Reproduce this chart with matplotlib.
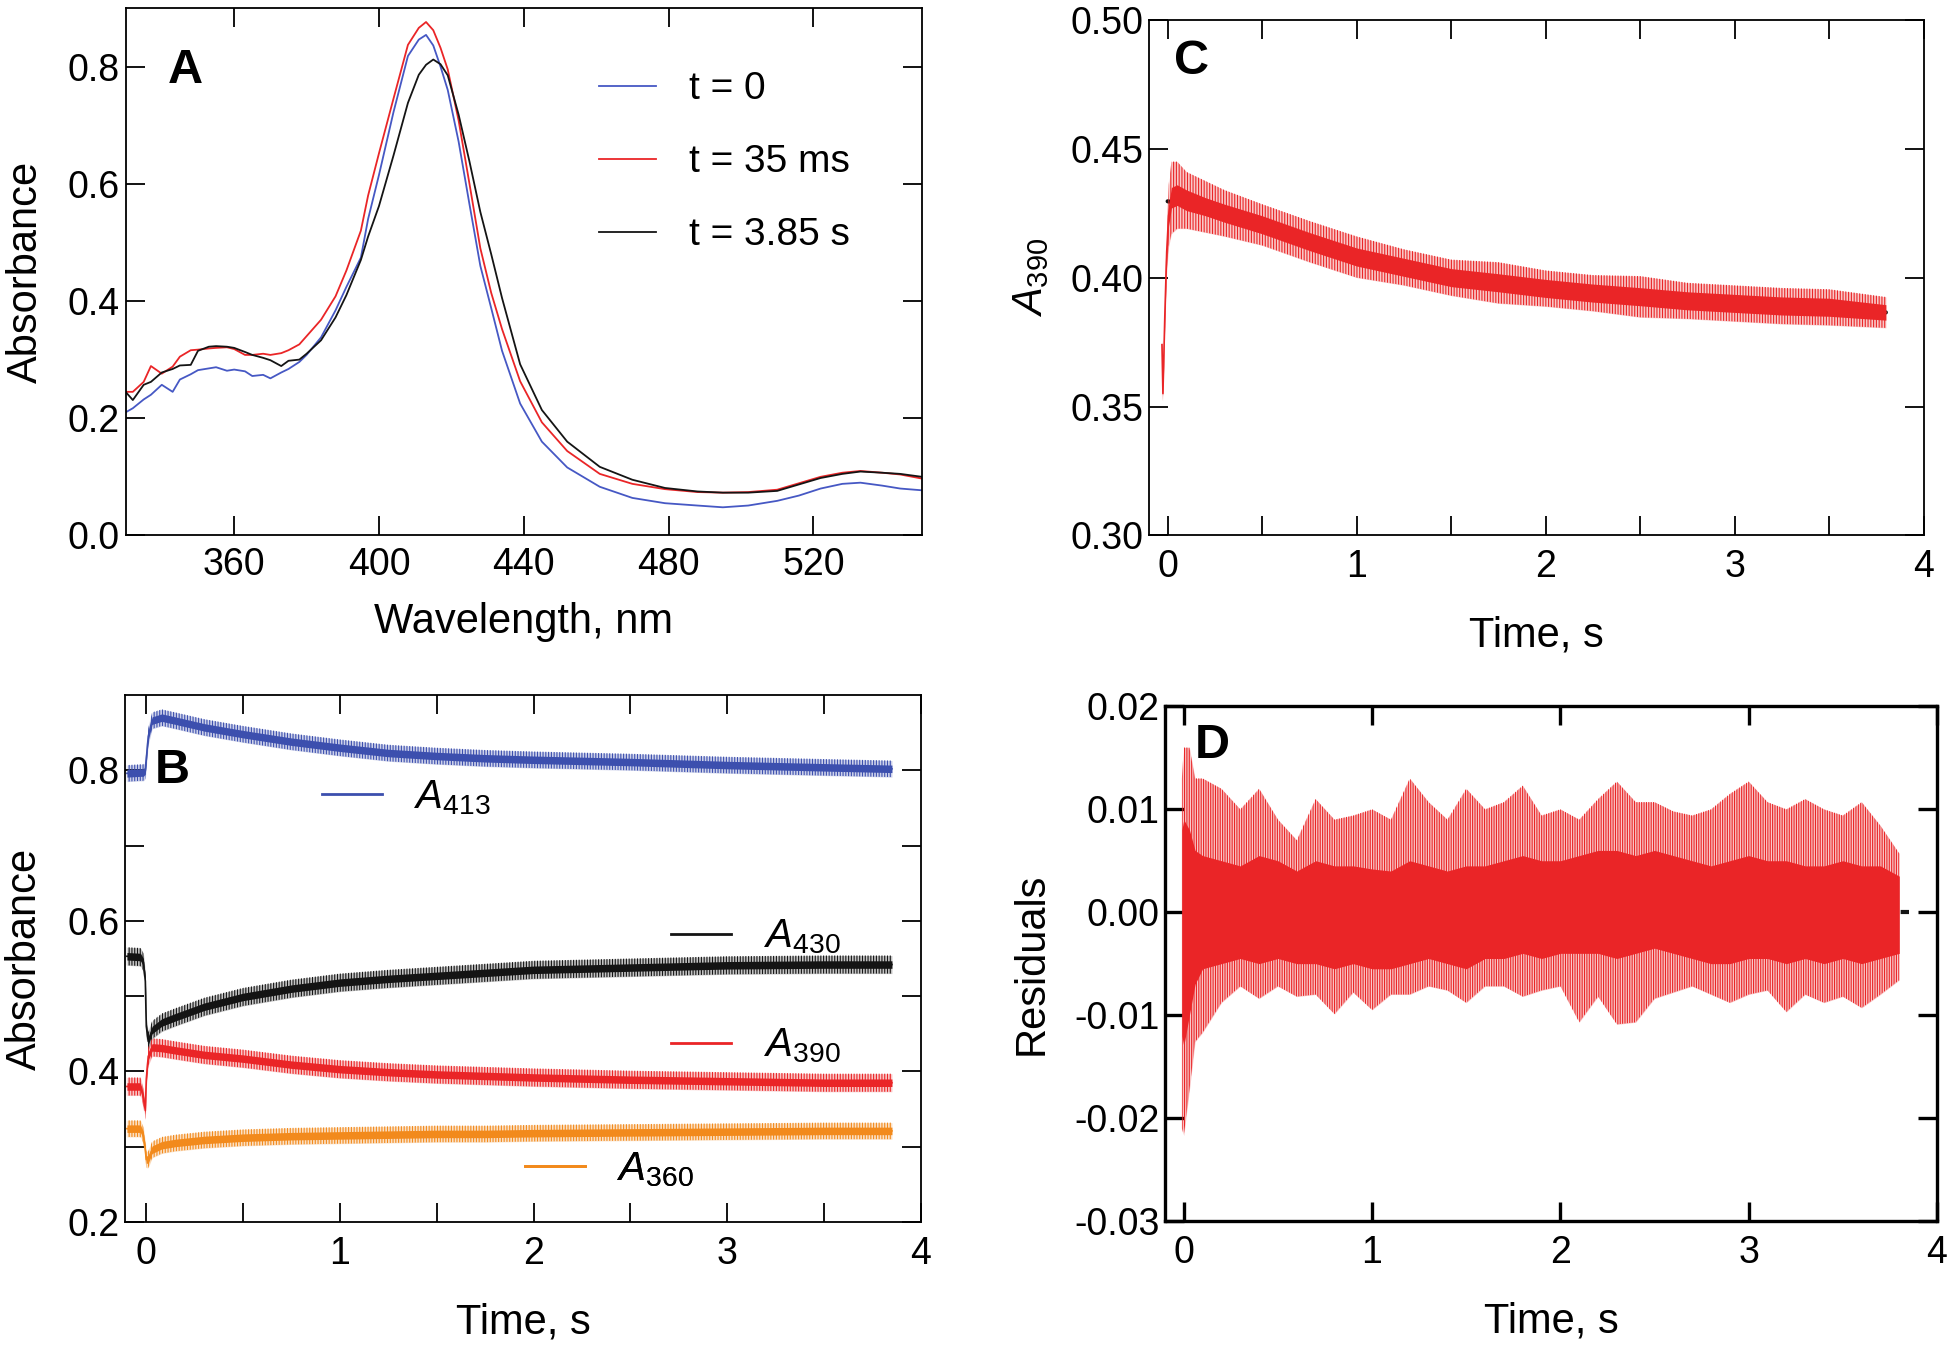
import matplotlib
matplotlib.use("Agg")
import matplotlib.pyplot as plt
from matplotlib.lines import Line2D
import numpy as np

plt.rcParams["font.family"] = ["Liberation Sans", "DejaVu Sans"]
plt.rcParams["mathtext.fontset"] = "custom"
plt.rcParams["mathtext.rm"] = "Liberation Sans"
plt.rcParams["mathtext.it"] = "Liberation Sans:italic"
plt.rcParams["axes.unicode_minus"] = False
plt.rcParams["hatch.linewidth"] = 0.8

# ---------------- panel A: spectra ----------------
WAVELENGTH = [330, 332, 335, 337, 340, 343, 345, 348, 350, 353, 355, 358, 360, 363,
              365, 368, 370, 373, 375, 378, 380, 384, 388, 391, 395, 397, 400, 404,
              408, 411, 413, 415, 417, 419, 422, 425, 428, 431, 434, 439, 445, 452,
              461, 470, 479, 488, 495, 502, 510, 516, 522, 528, 533, 539, 544, 550]
ABS_T0 = [0.210, 0.217, 0.232, 0.240, 0.257, 0.245, 0.266, 0.275, 0.282, 0.285, 0.287,
          0.281, 0.283, 0.280, 0.272, 0.274, 0.268, 0.278, 0.284, 0.296, 0.308, 0.338,
          0.384, 0.424, 0.474, 0.540, 0.615, 0.722, 0.818, 0.846, 0.854, 0.836, 0.800,
          0.760, 0.672, 0.565, 0.460, 0.388, 0.315, 0.225, 0.160, 0.116, 0.083, 0.064,
          0.055, 0.051, 0.048, 0.051, 0.059, 0.068, 0.080, 0.088, 0.090, 0.085, 0.080,
          0.077]
ABS_T35MS = [0.245, 0.245, 0.262, 0.289, 0.276, 0.288, 0.305, 0.316, 0.317, 0.319, 0.320,
             0.321, 0.318, 0.308, 0.308, 0.310, 0.308, 0.311, 0.316, 0.326, 0.340, 0.368,
             0.408, 0.452, 0.520, 0.580, 0.652, 0.745, 0.837, 0.866, 0.876, 0.862, 0.832,
             0.795, 0.708, 0.600, 0.490, 0.414, 0.352, 0.263, 0.193, 0.144, 0.105, 0.088,
             0.079, 0.074, 0.073, 0.074, 0.078, 0.089, 0.100, 0.107, 0.110, 0.107, 0.104,
             0.097]
ABS_T385S = [0.245, 0.231, 0.257, 0.262, 0.278, 0.284, 0.290, 0.291, 0.315, 0.322, 0.323,
             0.322, 0.320, 0.313, 0.308, 0.303, 0.299, 0.289, 0.298, 0.300, 0.310, 0.333,
             0.372, 0.410, 0.470, 0.510, 0.562, 0.648, 0.738, 0.786, 0.803, 0.812, 0.804,
             0.785, 0.718, 0.638, 0.552, 0.480, 0.405, 0.292, 0.214, 0.160, 0.117, 0.095,
             0.081, 0.075, 0.073, 0.073, 0.076, 0.087, 0.098, 0.105, 0.109, 0.107, 0.105,
             0.100]
SPECTRA_LABELS = ["t = 0", "t = 35 ms", "t = 3.85 s"]

# ---------------- panel B: kinetic traces ----------------
TIME_B = [-0.10, -0.03, -0.015, -0.005, 0.0, 0.01, 0.03, 0.08, 0.15, 0.3, 0.5, 0.75,
          1.0, 1.25, 1.5, 1.75, 2.0, 2.5, 3.0, 3.5, 3.85]
A413 = [0.796, 0.797, 0.797, 0.800, 0.815, 0.845, 0.866, 0.870, 0.866, 0.857, 0.848,
        0.838, 0.830, 0.823, 0.819, 0.816, 0.814, 0.811, 0.807, 0.804, 0.802]
A430 = [0.553, 0.552, 0.545, 0.520, 0.460, 0.440, 0.455, 0.465, 0.472, 0.486, 0.499,
        0.510, 0.518, 0.523, 0.527, 0.531, 0.535, 0.538, 0.541, 0.542, 0.542]
A390 = [0.380, 0.380, 0.365, 0.348, 0.390, 0.420, 0.432, 0.431, 0.428, 0.422, 0.417,
        0.409, 0.403, 0.399, 0.396, 0.394, 0.392, 0.389, 0.387, 0.385, 0.385]
A360 = [0.324, 0.324, 0.315, 0.295, 0.283, 0.283, 0.296, 0.302, 0.305, 0.309, 0.312,
        0.314, 0.315, 0.316, 0.317, 0.317, 0.318, 0.319, 0.320, 0.321, 0.321]
TRACE_LABELS = [r"$A_{413}$", r"$A_{430}$", r"$A_{390}$", r"$A_{360}$"]
NOISE_CORE_B = [0.005, 0.005, 0.005, 0.005]
NOISE_SPIKE_B = [0.011, 0.012, 0.012, 0.011]

# ---------------- panel C: A390 with fit ----------------
TIME_C = [-0.03, -0.025, -0.015, -0.005, 0.005, 0.02, 0.05, 0.1, 0.2, 0.3, 0.5, 0.75,
          1.0, 1.25, 1.5, 1.75, 2.0, 2.25, 2.5, 2.75, 3.0, 3.25, 3.5, 3.8]
A390_C = [0.374, 0.355, 0.385, 0.410, 0.424, 0.431, 0.432, 0.430, 0.4275, 0.425, 0.4205,
          0.414, 0.408, 0.404, 0.400, 0.398, 0.3958, 0.394, 0.3926, 0.391, 0.390, 0.389,
          0.3885, 0.3865]
CORE_C = [0.001, 0.001, 0.002, 0.003, 0.004, 0.004, 0.004, 0.004, 0.0035, 0.0035, 0.0035,
          0.0035, 0.0035, 0.0035, 0.0035, 0.0035, 0.0035, 0.0035, 0.0035, 0.0035, 0.0035,
          0.0035, 0.0035, 0.003]
SPIKE_C = [0.002, 0.003, 0.005, 0.008, 0.012, 0.014, 0.013, 0.011, 0.010, 0.009, 0.008,
           0.008, 0.008, 0.007, 0.007, 0.008, 0.007, 0.007, 0.008, 0.007, 0.007, 0.007,
           0.007, 0.006]
FIT_TIME = [0.0, 0.1, 0.2, 0.3, 0.5, 0.75, 1.0, 1.25, 1.5, 1.75, 2.0, 2.25, 2.5, 2.75,
            3.0, 3.25, 3.5, 3.8]
FIT_A390 = [0.4296, 0.4285, 0.4270, 0.4250, 0.4205, 0.4145, 0.4090, 0.4045, 0.4005,
            0.3975, 0.3950, 0.3930, 0.3915, 0.3900, 0.3890, 0.3880, 0.3873, 0.3865]

# ---------------- panel D: residuals ----------------
TIME_D = [-0.01, 0.0, 0.03, 0.06, 0.1, 0.2, 0.3, 0.4, 0.5, 0.6, 0.7, 0.8, 0.9, 1.0,
          1.1, 1.2, 1.3, 1.4, 1.5, 1.6, 1.7, 1.8, 1.9, 2.0, 2.1, 2.2, 2.3, 2.4, 2.5,
          2.6, 2.7, 2.8, 2.9, 3.0, 3.1, 3.2, 3.3, 3.4, 3.5, 3.6, 3.7, 3.8]
RES_SPIKE_HI = [0.013, 0.016, 0.016, 0.013, 0.013, 0.012, 0.010, 0.012, 0.009, 0.007,
                0.011, 0.009, 0.0094, 0.010, 0.009, 0.013, 0.0107, 0.009, 0.012, 0.010,
                0.0107, 0.0123, 0.0094, 0.010, 0.009, 0.011, 0.0127, 0.0107, 0.0107,
                0.0098, 0.0094, 0.010, 0.0115, 0.0127, 0.0107, 0.010, 0.011, 0.010,
                0.0094, 0.0107, 0.0084, 0.0057]
RES_SPIKE_LO = [-0.021, -0.0217, -0.0173, -0.0126, -0.0117, -0.0088, -0.0072, -0.0084,
                -0.0072, -0.0082, -0.008, -0.0099, -0.0078, -0.0095, -0.008, -0.008,
                -0.0072, -0.0076, -0.0088, -0.0072, -0.0072, -0.0082, -0.0076, -0.0072,
                -0.0107, -0.0082, -0.0109, -0.0107, -0.0084, -0.0078, -0.0072, -0.008,
                -0.0088, -0.008, -0.0076, -0.0097, -0.008, -0.0088, -0.0082, -0.0093,
                -0.008, -0.0066]
RES_CORE_HI = [0.008, 0.009, 0.008, 0.006, 0.0055, 0.005, 0.0045, 0.0055, 0.005, 0.004,
               0.005, 0.0045, 0.0045, 0.0042, 0.004, 0.005, 0.0045, 0.004, 0.0045, 0.0045,
               0.005, 0.0055, 0.005, 0.005, 0.0055, 0.006, 0.006, 0.0055, 0.006, 0.0055,
               0.005, 0.0045, 0.005, 0.0055, 0.005, 0.005, 0.0045, 0.0045, 0.005, 0.0045,
               0.0045, 0.0035]
RES_CORE_LO = [-0.012, -0.013, -0.010, -0.007, -0.0055, -0.005, -0.0045, -0.005, -0.0045,
               -0.005, -0.005, -0.0055, -0.005, -0.0055, -0.0055, -0.005, -0.0045, -0.005,
               -0.0055, -0.0045, -0.0045, -0.004, -0.0045, -0.004, -0.004, -0.004,
               -0.0045, -0.004, -0.0035, -0.004, -0.0045, -0.005, -0.005, -0.0045,
               -0.0045, -0.005, -0.0045, -0.005, -0.0045, -0.005, -0.0045, -0.004]
ZERO_TIME = [0.0, 3.85]
ZERO_RES = [0.0, 0.0]

BLUE_A = "#4658c4"
BLUE = "#3c4fae"
RED = "#ea2527"
ORANGE = "#f28a1c"
BLACK = "#141414"

TICK_FS = 27
LABEL_FS = 30
LETTER_FS = 35


def style_axis(ax, width=1.3, xpad=10):
    ax.tick_params(which="both", direction="in", top=True, right=True,
                   length=14, width=width, labelsize=TICK_FS)
    ax.tick_params(axis="x", which="both", pad=xpad)
    ax.tick_params(axis="y", which="both", pad=4)
    for spine in ax.spines.values():
        spine.set_linewidth(width)


def spiky_band(ax, t, lo, hi, color, z, hatch="||||||"):
    # light wash plus thin vertical strokes to suggest a noisy trace
    ax.fill_between(t, lo, hi, color=color, alpha=0.25, lw=0, zorder=z)
    ax.fill_between(t, lo, hi, facecolor="none", edgecolor=color, hatch=hatch,
                    lw=0, zorder=z + 0.05)


def noisy_trace(ax, t, center, core, spike, color, z=2):
    t = np.asarray(t)
    c = np.asarray(center)
    core = np.asarray(core)
    spike = np.asarray(spike)
    spiky_band(ax, t, c - spike, c + spike, color, z)
    ax.fill_between(t, c - core, c + core, color=color, lw=0, zorder=z + 0.1)
    ax.plot(t, c, color=color, lw=1.2, zorder=z + 0.2)


fig = plt.figure(figsize=(19.5, 13.47), dpi=100)

# ---- A ----
ax_a = fig.add_axes([0.0644, 0.6025, 0.4084, 0.3916])
for vals, color, lab in zip([ABS_T0, ABS_T35MS, ABS_T385S], [BLUE_A, RED, BLACK],
                            SPECTRA_LABELS):
    ax_a.plot(WAVELENGTH, vals, color=color, lw=1.3, label=lab)
ax_a.set_xlim(330, 550)
ax_a.set_ylim(0, 0.9)
ax_a.set_xticks([360, 400, 440, 480, 520])
ax_a.set_yticks([0.0, 0.2, 0.4, 0.6, 0.8])
ax_a.set_yticklabels(["0.0", "0.2", "0.4", "0.6", "0.8"])
style_axis(ax_a, xpad=8)
ax_a.set_xlabel("Wavelength, nm", fontsize=LABEL_FS, labelpad=14)
ax_a.set_ylabel("Absorbance", fontsize=LABEL_FS, labelpad=16)
ax_a.legend(loc="upper left", bbox_to_anchor=(0.594, 0.880), frameon=False,
            fontsize=28, handlelength=1.47, handletextpad=0.85, labelspacing=0.95,
            borderpad=0, borderaxespad=0)
ax_a.text(0.053, 0.925, "A", transform=ax_a.transAxes, fontsize=LETTER_FS,
          fontweight="bold", va="top", ha="left")

# ---- C ----
ax_c = fig.add_axes([0.5891, 0.6025, 0.3974, 0.3828])
ax_c.plot(FIT_TIME, FIT_A390, color=BLACK, lw=3, solid_capstyle="round", zorder=1)
noisy_trace(ax_c, TIME_C, A390_C, CORE_C, SPIKE_C, RED)
ax_c.set_xlim(-0.1, 4)
ax_c.set_ylim(0.30, 0.50)
ax_c.set_xticks([0, 1, 2, 3, 4])
ax_c.set_xticklabels(["0", "1", "2", "3", "4"])
ax_c.set_xticks([0.5, 1.5, 2.5, 3.5], minor=True)
ax_c.set_yticks([0.30, 0.35, 0.40, 0.45, 0.50])
ax_c.set_yticklabels(["0.30", "0.35", "0.40", "0.45", "0.50"])
style_axis(ax_c)
ax_c.set_xlabel("Time, s", fontsize=LABEL_FS, labelpad=22)
ax_c.set_ylabel(r"$A_{390}$", fontsize=LABEL_FS, labelpad=14)
ax_c.text(0.033, 0.962, "C", transform=ax_c.transAxes, fontsize=LETTER_FS,
          fontweight="bold", va="top", ha="left")

# ---- B ----
ax_b = fig.add_axes([0.0641, 0.0928, 0.4082, 0.3912])
b_series = [A413, A430, A390, A360]
b_colors = [BLUE, BLACK, RED, ORANGE]
for vals, color, core, spike in zip(b_series, b_colors, NOISE_CORE_B, NOISE_SPIKE_B):
    noisy_trace(ax_b, TIME_B, vals, core, spike, color)
ax_b.set_xlim(-0.11, 4)
ax_b.set_ylim(0.2, 0.9)
ax_b.set_xticks([0, 1, 2, 3, 4])
ax_b.set_xticklabels(["0", "1", "2", "3", "4"])
ax_b.set_xticks([0.5, 1.5, 2.5, 3.5], minor=True)
ax_b.set_yticks([0.2, 0.4, 0.6, 0.8])
ax_b.set_yticklabels(["0.2", "0.4", "0.6", "0.8"])
ax_b.set_yticks([0.3, 0.5, 0.7], minor=True)
style_axis(ax_b)
ax_b.set_xlabel("Time, s", fontsize=LABEL_FS, labelpad=22)
ax_b.set_ylabel("Absorbance", fontsize=LABEL_FS, labelpad=16)
legend_spots = [(0.247, 0.805), (0.686, 0.541), (0.686, 0.334), (0.502, 0.099)]
for color, lab, spot in zip(b_colors, TRACE_LABELS, legend_spots):
    leg = ax_b.legend([Line2D([], [], color=color, lw=2)], [lab], loc="center left",
                      bbox_to_anchor=spot, frameon=False, fontsize=29,
                      handlelength=1.5, handletextpad=0.8, borderpad=0,
                      borderaxespad=0)
    ax_b.add_artist(leg)
ax_b.text(0.038, 0.900, "B", transform=ax_b.transAxes, fontsize=LETTER_FS,
          fontweight="bold", va="top", ha="left", zorder=10)

# ---- D ----
ax_d = fig.add_axes([0.5974, 0.0936, 0.3959, 0.3820])
ax_d.plot(ZERO_TIME, ZERO_RES, color=BLACK, lw=3, ls=(0, (2, 2)), zorder=1)
spiky_band(ax_d, TIME_D, RES_SPIKE_LO, RES_SPIKE_HI, RED, 2, hatch="|||||||")
ax_d.fill_between(TIME_D, RES_CORE_LO, RES_CORE_HI, color=RED, lw=0, zorder=3)
ax_d.set_xlim(-0.1, 4)
ax_d.set_ylim(-0.03, 0.02)
ax_d.set_xticks([0, 1, 2, 3, 4])
ax_d.set_xticklabels(["0", "1", "2", "3", "4"])
ax_d.set_yticks([-0.03, -0.02, -0.01, 0.0, 0.01, 0.02])
ax_d.set_yticklabels(["-0.03", "-0.02", "-0.01", "0.00", "0.01", "0.02"])
style_axis(ax_d, width=2.4)
ax_d.set_xlabel("Time, s", fontsize=LABEL_FS, labelpad=22)
ax_d.set_ylabel("Residuals", fontsize=LABEL_FS, labelpad=16)
ax_d.text(0.038, 0.968, "D", transform=ax_d.transAxes, fontsize=LETTER_FS,
          fontweight="bold", va="top", ha="left", zorder=10)

fig.savefig("out.png", dpi=100)
